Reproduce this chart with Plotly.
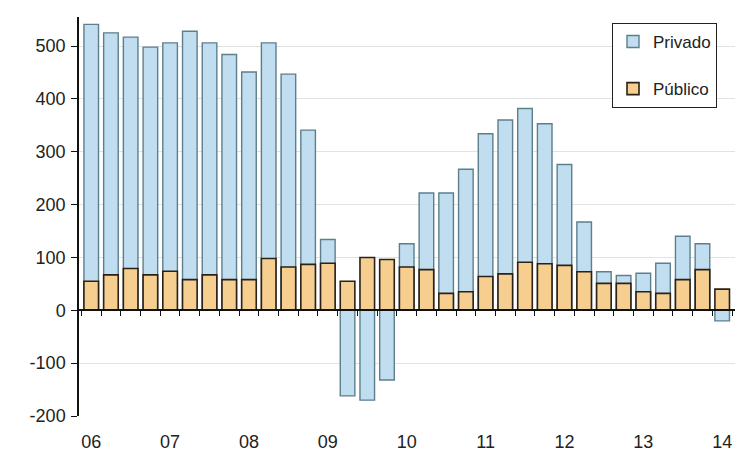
import plotly.graph_objects as go

# Quarterly flows, 2006 Q1 to 2014 Q1
quarters = [f"{y}T{q}" for y in range(2006, 2014) for q in range(1, 5)] + ["2014T1"]
privado = [541, 525, 517, 498, 506, 528, 506, 484, 451, 506, 447, 341, 134,
           -162, -170, -132, 126, 222, 222, 267, 334, 360, 382, 353, 276, 167,
           73, 66, 70, 89, 140, 126, -20]
publico = [55, 67, 79, 67, 74, 58, 67, 58, 58, 98, 82, 87, 89,
           55, 100, 96, 82, 77, 32, 35, 64, 69, 91, 88, 85, 73,
           51, 51, 35, 32, 58, 77, 40]
year_labels = ["06", "07", "08", "09", "10", "11", "12", "13", "14"]
y_ticks = [-200, -100, 0, 100, 200, 300, 400, 500]
y_tick_text = ["-200", "-100", "0", "100", "200", "300", "400", "500"]

x = list(range(len(quarters)))
year_pos = x[::4]
boundaries = [i - 0.5 for i in x] + [x[-1] + 0.5]

X_RANGE = [-0.62, 32.65]
Y_RANGE = [-200, 555]
FONT = "Liberation Sans, Arial, sans-serif"

fig = go.Figure()
fig.add_trace(go.Bar(
    x=x, y=privado, name="Privado", width=0.74,
    hovertext=quarters,
    marker=dict(color="#c0def0", line=dict(color="#5d7f8d", width=1.4)),
    legendgroup="a",
))
fig.add_trace(go.Bar(
    x=x, y=publico, name="Público", width=0.74,
    hovertext=quarters,
    marker=dict(color="#f6cf90", line=dict(color="#2a2118", width=1.6)),
    legendgroup="b",
))
# carrier for the bottom label axis
fig.add_trace(go.Scatter(x=[], y=[], xaxis="x2", showlegend=False, hoverinfo="skip"))

fig.update_layout(
    width=739, height=457,
    margin=dict(l=79, r=4, t=17, b=41),
    paper_bgcolor="white", plot_bgcolor="white",
    barmode="overlay",
    font=dict(family=FONT, size=18, color="#222222"),
    xaxis=dict(
        range=X_RANGE, anchor="free", position=(0 - Y_RANGE[0]) / (Y_RANGE[1] - Y_RANGE[0]),
        showline=True, linecolor="#111111", linewidth=1.5,
        tickmode="array", tickvals=boundaries, ticks="outside", ticklen=5,
        tickcolor="#111111", tickwidth=1.3, showticklabels=False,
        showgrid=False, zeroline=False, fixedrange=True,
    ),
    xaxis2=dict(
        range=X_RANGE, overlaying="x", anchor="y", side="bottom",
        tickmode="array", tickvals=year_pos, ticktext=year_labels,
        ticks="outside", ticklen=9, tickcolor="rgba(0,0,0,0)",
        showline=False, showgrid=False, zeroline=False,
    ),
    yaxis=dict(
        range=Y_RANGE, tickmode="array", tickvals=y_ticks, ticktext=y_tick_text,
        showline=True, linecolor="#111111", linewidth=1.5,
        ticks="outside", ticklen=6, tickcolor="#111111", tickwidth=1.3,
        showgrid=True, gridcolor="#e2e2e2", gridwidth=1,
        zeroline=False, ticklabelstandoff=2,
    ),
    legend=dict(
        x=0.8125, y=0.985, xanchor="left", yanchor="top",
        bgcolor="white", bordercolor="#222222", borderwidth=1,
        font=dict(family=FONT, size=17, color="#222222"),
        tracegroupgap=22, traceorder="grouped",
    ),
    showlegend=True,
)

fig.write_html("out.html")
